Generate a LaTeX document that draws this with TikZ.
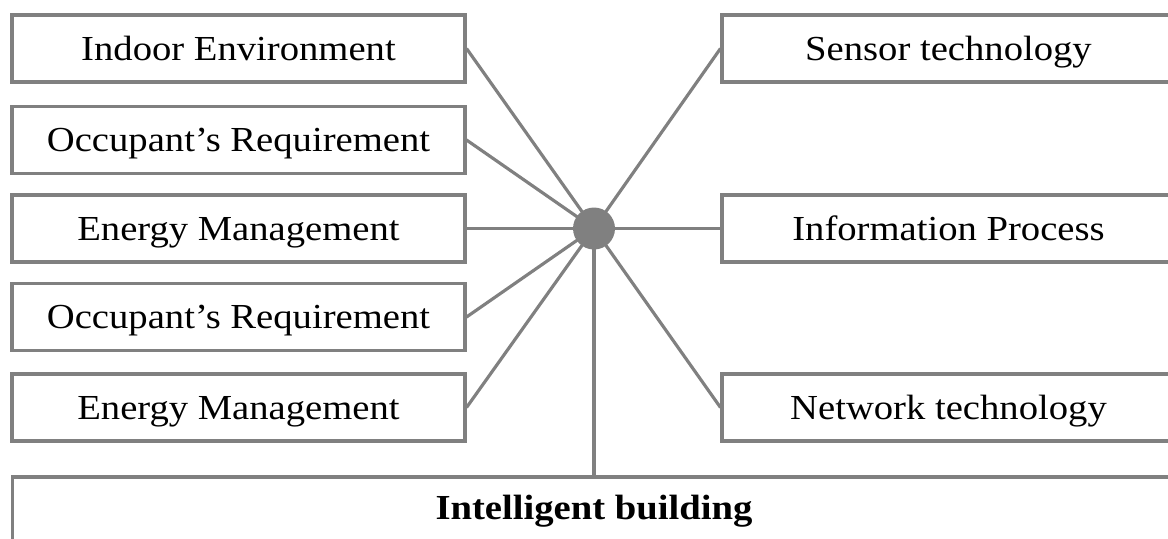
\documentclass[tikz,border=0pt]{standalone}
\usepackage{fontspec}
\setmainfont{Liberation Serif}[FakeStretch=1.1]
\definecolor{linegray}{RGB}{128,128,128}

\begin{document}
\begin{tikzpicture}[x=0.02cm,y=-0.02cm]
\tikzstyle{every node}+=[inner sep=0pt]
\tikzstyle{item}=[draw=linegray, line width=1.8pt, minimum width=9.06cm, minimum height=1.34cm, text height=13.2pt, text depth=0pt, font=\fontsize{20}{24}\selectfont]
\tikzstyle{link}=[draw=linegray, line width=1.8pt]
\useasboundingbox (0,0) rectangle (1168,538);
\clip (0,0) rectangle (1168,538);
\node [item] (indoor) at (238.5,48.5) {Indoor Environment};
\node [item] (occupA) at (238.5,140) {Occupant’s Requirement};
\node [item] (energyA) at (238.5,228.5) {Energy Management};
\node [item] (occupB) at (238.5,317) {Occupant’s Requirement};
\node [item] (energyB) at (238.5,407.5) {Energy Management};
\node [item] (sensor) at (948.5,48.5) {Sensor technology};
\node [item] (info) at (948.5,228.5) {Information Process};
\node [item] (network) at (948.5,407.5) {Network technology};
\node [item, minimum width=23.28cm, minimum height=2cm, text depth=0.78cm] (building) at (594,527) {\textbf{Intelligent building}};
\node [circle, fill=linegray, minimum size=0.84cm] (hub) at (594,228.5) {};
\draw [link] (hub.center) -- (indoor.east);
\draw [link] (hub.center) -- (occupA.east);
\draw [link] (hub.center) -- (energyA.east);
\draw [link] (hub.center) -- (occupB.east);
\draw [link] (hub.center) -- (energyB.east);
\draw [link] (hub.center) -- (sensor.west);
\draw [link] (hub.center) -- (info.west);
\draw [link] (hub.center) -- (network.west);
\draw [link] (hub.center) -- (building.north);
\end{tikzpicture}
\end{document}
